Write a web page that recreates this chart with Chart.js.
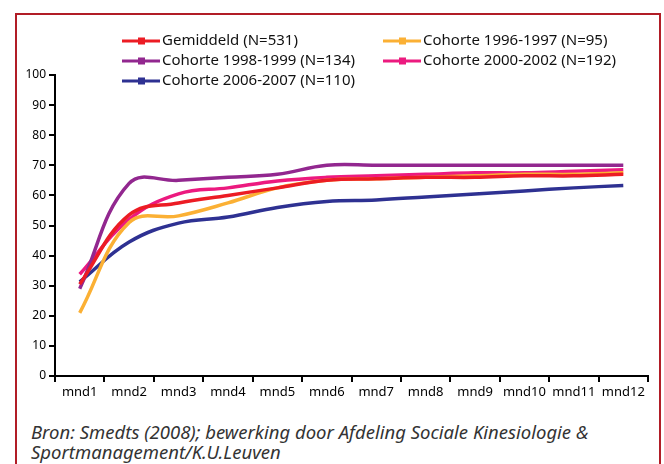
<!DOCTYPE html>
<html>
<head>
<meta charset="utf-8">
<script src="https://cdn.jsdelivr.net/npm/chart.js@4.4.1/dist/chart.umd.min.js"></script>
<style>
  body { margin: 0; background: #fff; }
  #wrap { position: relative; width: 664px; height: 464px; overflow: hidden; }
  #frame { position: absolute; left: 15px; top: 13px; width: 642px; height: 500px; border: 2px solid #b11d26; }
  #chart { position: absolute; left: 0; top: 0; }
  #bron { position: absolute; left: 31px; top: 422px; font: italic 18.5px "Noto Sans", sans-serif; color: #333; line-height: 20px; }
</style>
</head>
<body>
<div id="wrap">
  <div id="frame"></div>
  <canvas id="chart" width="664" height="406"></canvas>
  <div id="bron">Bron: Smedts (2008); bewerking door Afdeling Sociale Kinesiologie &amp;<br>Sportmanagement/K.U.Leuven</div>
</div>
<script>
// maanden en waarden
const months = ["mnd1", "mnd2", "mnd3", "mnd4", "mnd5", "mnd6", "mnd7", "mnd8", "mnd9", "mnd10", "mnd11", "mnd12"];
const gemiddeld = [30.5, 53.5, 57.5, 60, 62.5, 65, 65.5, 66, 66, 66.5, 66.5, 67];
const cohorte9697 = [21, 51, 53.2, 57.5, 62.5, 65, 65.5, 66, 66.5, 67, 67, 67.5];
const cohorte9899 = [29, 64, 65, 66, 67, 70, 70, 70, 70, 70, 70, 70];
const cohorte0002 = [33.8, 52, 60.5, 62.5, 64.8, 66, 66.5, 67, 67.5, 67.5, 68, 68.5];
const cohorte0607 = [31.3, 44.5, 50.8, 52.8, 56, 58, 58.5, 59.5, 60.5, 61.5, 62.5, 63.3];

const seriesLabels = ["Gemiddeld (N=531)", "Cohorte 1996-1997 (N=95)", "Cohorte 1998-1999 (N=134)", "Cohorte 2000-2002 (N=192)", "Cohorte 2006-2007 (N=110)"];
const seriesData = [gemiddeld, cohorte9697, cohorte9899, cohorte0002, cohorte0607];
const seriesColors = ["#ec1c24", "#fbb034", "#92278f", "#ec1a7f", "#2e3192"];

// legende in twee kolommen, zoals in het origineel
const legendPos = [[122, 41], [383, 41], [122, 61], [383, 61], [122, 81]];
const customLegend = {
  id: "customLegend",
  afterDraw(chart) {
    const ctx = chart.ctx;
    ctx.save();
    ctx.font = '15px "Noto Sans", sans-serif';
    ctx.textBaseline = "middle";
    chart.data.datasets.forEach((ds, i) => {
      const [x, y] = legendPos[i];
      ctx.strokeStyle = ds.borderColor;
      ctx.lineWidth = 3;
      ctx.beginPath();
      ctx.moveTo(x, y);
      ctx.lineTo(x + 38, y);
      ctx.stroke();
      ctx.fillStyle = ds.borderColor;
      ctx.fillRect(x + 16, y - 3.5, 7, 7);
      ctx.fillStyle = "#111";
      ctx.fillText(ds.label, x + 40, y);
    });
    ctx.restore();
  }
};

new Chart(document.getElementById("chart"), {
  type: "line",
  data: {
    labels: months,
    datasets: seriesData.map((d, i) => ({
      label: seriesLabels[i],
      data: d,
      borderColor: seriesColors[i],
      backgroundColor: seriesColors[i],
      borderWidth: 3.5,
      pointRadius: 0,
      tension: 0.4,
      fill: false
    }))
  },
  options: {
    responsive: false,
    animation: false,
    layout: { padding: { left: 15, top: 75, right: 16, bottom: 0 } },
    plugins: { legend: { display: false }, tooltip: { enabled: false } },
    scales: {
      x: {
        offset: true,
        afterFit: s => { s.height = 30; },
        grid: { offset: true, drawOnChartArea: false, color: "#000", lineWidth: 2, tickLength: 6 },
        border: { color: "#000", width: 2 },
        ticks: { color: "#000", font: { family: "Noto Sans", size: 13 }, padding: 2, maxRotation: 0, autoSkip: false }
      },
      y: {
        min: 0,
        max: 100,
        afterFit: s => { s.width = 40; },
        grid: { drawOnChartArea: false, color: "#000", lineWidth: 2, tickLength: 6 },
        border: { color: "#000", width: 2 },
        ticks: { stepSize: 10, color: "#000", font: { family: "Noto Sans", size: 12 }, padding: 3 }
      }
    }
  },
  plugins: [customLegend]
});
</script>
</body>
</html>
